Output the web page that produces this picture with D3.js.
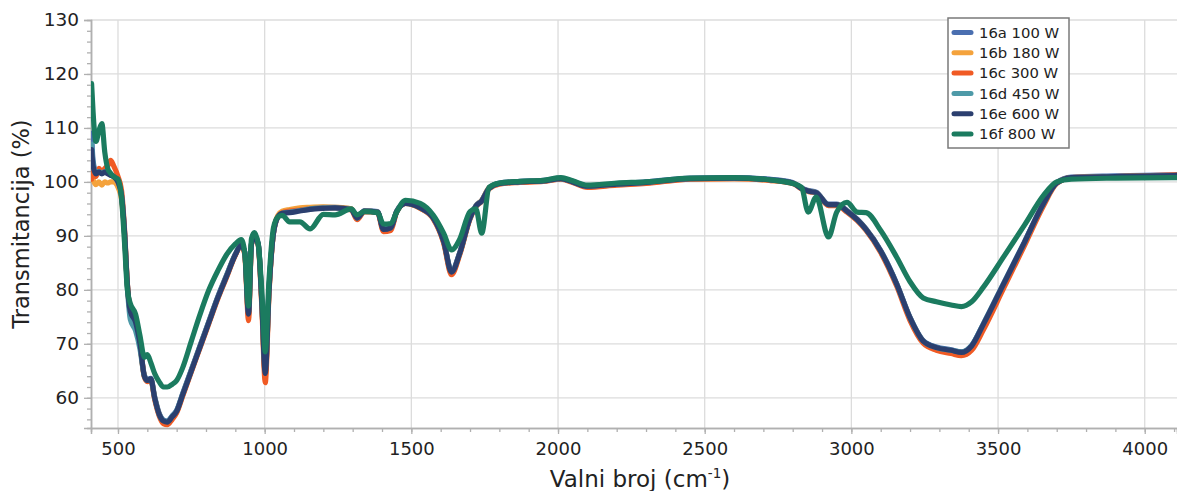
<!DOCTYPE html>
<html>
<head>
<meta charset="utf-8">
<script src="https://cdn.jsdelivr.net/npm/d3@7"></script>
<style>
  html, body { margin: 0; padding: 0; background: #fff; }
  svg { display: block; }
  .ytick text { font-family: "DejaVu Sans", Verdana, sans-serif; font-size: 18.5px; fill: #222; }
  .xtick text { font-family: "DejaVu Sans", Verdana, sans-serif; font-size: 18px; fill: #222; }
</style>
</head>
<body>
<svg id="chart"></svg>
<script>
// FTIR spectra, 16a–16f
const waveNum = [410, 415, 425, 435, 445, 455, 465, 475, 485, 500,
  512, 522, 532, 542, 560, 575, 590, 600, 612, 625,
  640, 655, 668, 685, 700, 720, 750, 780, 810, 840,
  870, 900, 920, 932, 945, 955, 965, 978, 990, 1002,
  1015, 1030, 1045, 1060, 1085, 1120, 1155, 1200, 1240, 1295,
  1315, 1340, 1385, 1405, 1430, 1450, 1480, 1530, 1575, 1610,
  1637, 1665, 1700, 1720, 1740, 1765, 1800, 1870, 1950, 2010,
  2050, 2100, 2200, 2300, 2450, 2600, 2720, 2800, 2830, 2853,
  2880, 2922, 2950, 2985, 3020, 3050, 3100, 3155, 3200, 3245,
  3290, 3340, 3375, 3410, 3450, 3520, 3590, 3655, 3700, 3750,
  3900, 4110];

const s16a = [109, 104, 101.8, 102, 101.8, 102, 101.7, 101.4, 101, 100,
  97.6, 91, 81, 76, 74, 70, 64.2, 63.4, 63.6, 60.2,
  57.2, 55.9, 55.7, 56.7, 57.7, 60.7, 65.2, 69.7, 74.2, 78.7,
  82.7, 86.6, 88.4, 87, 75.6, 88.6, 89.9, 88.6, 78.2, 64.8,
  80.2, 90.6, 93.6, 94.3, 94.5, 94.8, 95.1, 95.3, 95.3, 95,
  93.4, 94.7, 94.5, 91.4, 91.6, 94.6, 96.1, 95.3, 93.4, 89.1,
  83.5, 86.9, 93.4, 95.6, 96.6, 98.9, 99.8, 100.1, 100.3, 100.7,
  100.1, 99.3, 99.7, 100, 100.7, 100.8, 100.5, 99.9, 98.9, 98.4,
  98.1, 95.9, 95.9, 94.7, 93.1, 91.3, 87.3, 81.1, 74.9, 70.6,
  69.4, 68.9, 68.5, 69.7, 73.7, 81.3, 88.9, 96.1, 99.9, 100.9,
  101.1, 101.3];

const s16b = [103, 100.5, 99.5, 100, 99.4, 100, 99.8, 100, 100, 99,
  96.8, 90.5, 80.8, 75.8, 73.8, 69.8, 64, 63.2, 63.4, 60,
  57, 55.6, 55.4, 56.4, 57.4, 60.4, 65, 69.5, 74, 78.5,
  82.5, 86.5, 88.2, 86.8, 75.2, 88.4, 89.7, 88.4, 77.8, 64.2,
  79.8, 90.6, 93.8, 94.6, 94.9, 95.2, 95.3, 95.4, 95.3, 95,
  93.2, 94.6, 94.4, 91.1, 91.4, 94.5, 96, 95.1, 93.2, 88.9,
  83.1, 86.7, 93.3, 95.5, 96.6, 98.9, 99.7, 100, 100.2, 100.6,
  100, 99.2, 99.5, 99.8, 100.5, 100.6, 100.3, 99.8, 98.8, 98.3,
  98, 95.8, 95.8, 94.6, 93, 91.2, 87.1, 80.9, 74.7, 70.4,
  69.1, 68.6, 68.2, 69.4, 73.3, 81, 88.6, 96, 99.8, 100.8,
  101, 101.2];

const s16c = [100.5, 102, 101, 102.5, 101.8, 102.5, 103, 104, 103, 101,
  98.5, 91.5, 81.2, 75.8, 73.8, 69.8, 63.8, 63, 63.2, 59.7,
  56.7, 55.2, 55, 56, 57.2, 60.2, 64.8, 69.3, 73.8, 78.3,
  82.3, 86.4, 88.2, 86.6, 74.3, 88.4, 89.7, 88.3, 77.2, 62.8,
  79.5, 90.4, 93.5, 94.3, 94.6, 94.8, 95, 95.2, 95.2, 94.8,
  93, 94.5, 94.3, 90.8, 91, 94.4, 96, 95.1, 93.1, 88.7,
  82.8, 86.5, 93.1, 95.4, 96.4, 98.7, 99.6, 99.9, 100.1, 100.5,
  99.9, 99, 99.4, 99.7, 100.5, 100.6, 100.3, 99.7, 98.7, 98.2,
  97.9, 95.6, 95.6, 94.4, 92.8, 91, 86.9, 80.6, 74.3, 70.1,
  68.8, 68.2, 67.8, 68.8, 72.6, 80.4, 88.2, 95.6, 99.7, 100.8,
  101, 101.3];

const s16d = [107, 103.5, 101.6, 101.9, 101.6, 101.9, 101.6, 101.3, 101, 100,
  97.4, 90.6, 80.4, 74.5, 72.4, 69, 64, 63.2, 63.4, 60,
  57, 55.8, 55.6, 56.6, 57.6, 60.6, 65.1, 69.6, 74.1, 78.6,
  82.6, 86.6, 88.3, 87, 75.8, 88.5, 89.8, 88.5, 78.4, 65.5,
  80.4, 90.5, 93.5, 94.2, 94.4, 94.7, 95, 95.2, 95.2, 94.9,
  93.3, 94.6, 94.4, 91.3, 91.5, 94.5, 96, 95.2, 93.3, 89,
  83.4, 86.8, 93.3, 95.5, 96.5, 98.8, 99.7, 100, 100.2, 100.6,
  100, 99.2, 99.6, 99.9, 100.6, 100.7, 100.4, 99.8, 98.8, 98.3,
  98, 95.8, 95.8, 94.6, 93, 91.2, 87.2, 81, 74.8, 70.5,
  69.3, 68.8, 68.5, 69.7, 73.7, 81.3, 88.8, 96, 99.8, 100.8,
  101, 101.2];

const s16e = [106, 103, 101.5, 101.8, 101.5, 101.8, 101.5, 101.2, 101, 100,
  97.5, 91, 81, 76, 74, 70, 64, 63.2, 63.5, 60,
  57, 55.7, 55.5, 56.5, 57.5, 60.5, 65, 69.5, 74, 78.5,
  82.5, 86.5, 88.3, 87, 75.5, 88.5, 89.8, 88.5, 78, 64.5,
  80, 90.5, 93.5, 94.2, 94.3, 94.6, 94.9, 95.1, 95.2, 94.9,
  93.3, 94.6, 94.4, 91.2, 91.5, 94.5, 96, 95.2, 93.3, 89,
  83.3, 86.8, 93.3, 95.5, 96.5, 98.8, 99.7, 100, 100.2, 100.6,
  100, 99.2, 99.6, 99.9, 100.6, 100.7, 100.4, 99.8, 98.8, 98.3,
  98, 95.8, 95.8, 94.6, 93, 91.2, 87.2, 81, 74.8, 70.5,
  69.3, 68.8, 68.4, 69.6, 73.6, 81.2, 88.8, 96, 99.8, 100.8,
  101, 101.2];

const s16f = [118.2, 113, 107.5, 109.5, 110.8, 105.5, 102.5, 101.6, 101, 100.5,
  97, 89, 80, 77.5, 75.5, 71.5, 67.5, 68, 66.5, 64.5,
  63, 62, 62, 62.5, 63.2, 65.5, 70.5, 75.5, 80, 83.5,
  86.5, 88.5, 89.3, 87, 77, 89.5, 90.6, 88.5, 80, 68.5,
  82, 91.5, 93.5, 93.8, 92.6, 92.6, 91.3, 94, 93.9, 95,
  93.9, 94.5, 94.3, 92.2, 92.3, 94.4, 96.6, 96, 93.8, 90.5,
  87.4, 89.4, 94.5, 95, 90.5, 99, 99.8, 100.1, 100.3, 100.8,
  100.2, 99.4, 99.8, 100, 100.7, 100.8, 100.4, 99.7, 99, 94.4,
  97.2, 89.8, 94.4, 96.2, 94.4, 94.3, 91, 86, 81.5, 78.5,
  77.8, 77.2, 76.9, 77.8, 80.5, 86.2, 92, 97.5, 100, 100.5,
  100.7, 100.8];

const seriesNames = ['16a 100 W', '16b 180 W', '16c 300 W', '16d 450 W', '16e 600 W', '16f 800 W'];
const seriesValues = [s16a, s16b, s16c, s16d, s16e, s16f];
const seriesColors = ['#4a6fb0', '#f4a23c', '#f05a24', '#4e9aa8', '#2b3f6f', '#1b7b5f'];

const xTicks = [500, 1000, 1500, 2000, 2500, 3000, 3500, 4000];
const yTicks = [60, 70, 80, 90, 100, 110, 120, 130];

const width = 1177, height = 491;
const margin = { top: 20, right: 0, bottom: 63, left: 91 };

const svg = d3.select('#chart').attr('width', width).attr('height', height);

const x = d3.scaleLinear().domain([408, 4110]).range([margin.left, width - margin.right]);
const y = d3.scaleLinear().domain([54.4, 130]).range([height - margin.bottom, margin.top]);

const y0 = height - margin.bottom;

// gridlines
const grid = svg.append('g').attr('stroke', '#dcdcdc').attr('stroke-width', 1.3);
yTicks.forEach(t => {
  grid.append('line').attr('x1', margin.left).attr('x2', width).attr('y1', y(t)).attr('y2', y(t));
});
xTicks.forEach(t => {
  grid.append('line').attr('x1', x(t)).attr('x2', x(t)).attr('y1', margin.top).attr('y2', y0);
});

// axes
const xAxis = d3.axisBottom(x).tickValues(xTicks).tickSize(6).tickPadding(8).tickFormat(d3.format('d'));
const xMinor = d3.axisBottom(x).tickValues(d3.range(500, 4101, 100)).tickSize(4).tickFormat('');
const gxMinor = svg.append('g').attr('transform', `translate(0,${y0})`).call(xMinor);
const gx = svg.append('g').attr('class', 'xtick').attr('transform', `translate(0,${y0})`).call(xAxis);

const yAxis = d3.axisLeft(y).tickValues(yTicks).tickSize(7).tickPadding(5);
const yMinor = d3.axisLeft(y).tickValues(d3.range(56, 130, 2)).tickSize(4).tickFormat('');
const gyMinor = svg.append('g').attr('transform', `translate(${margin.left},0)`).call(yMinor);
const gy = svg.append('g').attr('class', 'ytick').attr('transform', `translate(${margin.left},0)`).call(yAxis);

[gx, gxMinor, gy, gyMinor].forEach(g => {
  g.select('.domain').attr('stroke', '#b0b0b0').attr('stroke-width', 1.5);
  g.selectAll('.tick line').attr('stroke', '#b0b0b0').attr('stroke-width', 1.3);
  g.selectAll('text').attr('font-family', null).attr('font-size', null).attr('fill', null);
});

// lines
const line = d3.line()
  .x((d, i) => x(waveNum[i]))
  .y(d => y(d))
  .curve(d3.curveMonotoneX);

svg.append('defs').append('clipPath').attr('id', 'plot-clip')
  .append('rect').attr('x', margin.left).attr('y', 0).attr('width', width - margin.left).attr('height', y0);

const lineGroup = svg.append('g').attr('clip-path', 'url(#plot-clip)');
seriesValues.forEach((vals, i) => {
  lineGroup.append('path')
    .attr('d', line(vals))
    .attr('fill', 'none')
    .attr('stroke', seriesColors[i])
    .attr('stroke-width', 5.2)
    .attr('stroke-linejoin', 'round')
    .attr('stroke-linecap', 'round');
});

// axis titles
svg.append('text')
  .attr('transform', `translate(29,${(margin.top + y0) / 2}) rotate(-90)`)
  .attr('text-anchor', 'middle')
  .attr('font-family', '"DejaVu Sans", Verdana, sans-serif')
  .attr('font-size', '22.5px').attr('fill', '#222')
  .text('Transmitancija (%)');

const xTitle = svg.append('text')
  .attr('x', 640).attr('y', 487)
  .attr('text-anchor', 'middle')
  .attr('font-family', '"DejaVu Sans", Verdana, sans-serif')
  .attr('font-size', '23px').attr('fill', '#222');
xTitle.append('tspan').text('Valni broj (cm');
xTitle.append('tspan').attr('font-size', '13.5px').attr('dy', '-9').text('-1');
xTitle.append('tspan').attr('dy', '9').text(')');

// legend
const legend = svg.append('g').attr('transform', 'translate(948,18)');
legend.append('rect').attr('width', 121).attr('height', 130)
  .attr('fill', '#fff').attr('stroke', '#7a7a7a').attr('stroke-width', 1.5);
seriesNames.forEach((name, i) => {
  const ry = 14.5 + i * 20.3;
  legend.append('line').attr('x1', 6).attr('x2', 23).attr('y1', ry).attr('y2', ry)
    .attr('stroke', seriesColors[i]).attr('stroke-width', 5).attr('stroke-linecap', 'round');
  legend.append('text').attr('x', 31).attr('y', ry).attr('dy', '0.36em')
    .attr('font-family', '"DejaVu Sans", Verdana, sans-serif')
    .attr('font-size', '14.8px').attr('fill', '#222')
    .text(name);
});
</script>
</body>
</html>
